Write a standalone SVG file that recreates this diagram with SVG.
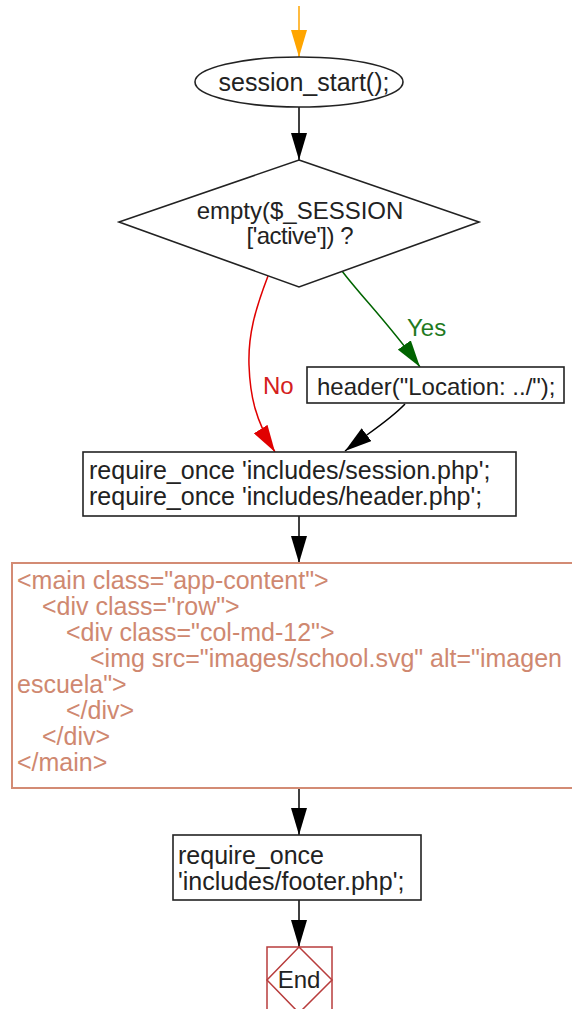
<svg xmlns="http://www.w3.org/2000/svg" width="572" height="1009" viewBox="0 0 572 1009">
<style>
text{font-family:"Liberation Sans",Arial,sans-serif;font-size:25px;fill:#222}
.s24{font-size:24px}
.shape{fill:#fff;stroke:#222;stroke-width:1.6}
.code{fill:#cf8870}
.edge{fill:none;stroke-width:1.5}
</style>
<defs>
<marker id="ah-black" markerUnits="userSpaceOnUse" viewBox="0 0 27 16" refX="27" refY="8" markerWidth="27" markerHeight="16" orient="auto"><path d="M0,0 L27,8 L0,16 Z" fill="#000"/></marker>
<marker id="ah-orange" markerUnits="userSpaceOnUse" viewBox="0 0 27 16" refX="27" refY="8" markerWidth="27" markerHeight="16" orient="auto"><path d="M0,0 L27,8 L0,16 Z" fill="#ffa500"/></marker>
<marker id="ah-red" markerUnits="userSpaceOnUse" viewBox="0 0 27 16" refX="27" refY="8" markerWidth="27" markerHeight="16" orient="auto"><path d="M0,0 L27,8 L0,16 Z" fill="#e00000"/></marker>
<marker id="ah-green" markerUnits="userSpaceOnUse" viewBox="0 0 27 16" refX="27" refY="8" markerWidth="27" markerHeight="16" orient="auto"><path d="M0,0 L27,8 L0,16 Z" fill="#006400"/></marker>
</defs>
<g id="connectors">
<path class="edge" d="M299,6 L299,57" stroke="#ffa500" marker-end="url(#ah-orange)"/>
<path class="edge" d="M299,107 L299,160" stroke="#000" marker-end="url(#ah-black)"/>
<path class="edge" d="M268,276 C255,310 248,335 249,365 C250,395 255,420 275,452" stroke="#e00000" marker-end="url(#ah-red)"/>
<path class="edge" d="M342,271 C360,295 390,325 420,367" stroke="#006400" marker-end="url(#ah-green)"/>
<path class="edge" d="M405,404 C390,420 370,432 345,451" stroke="#000" marker-end="url(#ah-black)"/>
<path class="edge" d="M299,516 L299,563" stroke="#000" marker-end="url(#ah-black)"/>
<path class="edge" d="M299,788 L299,835" stroke="#000" marker-end="url(#ah-black)"/>
<path class="edge" d="M299,900 L299,947" stroke="#000" marker-end="url(#ah-black)"/>
<text class="s24" x="263" y="394" style="fill:#d42020">No</text>
<text class="s24" x="407" y="336" style="fill:#1f7a1f">Yes</text>
</g>
<g id="start">
<ellipse class="shape" cx="299" cy="82" rx="104" ry="25"/>
<text x="304" y="91" text-anchor="middle">session_start();</text>
</g>
<g id="decision">
<path class="shape" d="M299,160 L479,222 L299,287 L119,222 Z"/>
<text class="s24" x="300" y="219" text-anchor="middle">empty($_SESSION</text>
<text class="s24" x="300" y="244" text-anchor="middle" textLength="107" lengthAdjust="spacing">['active']) ?</text>
</g>
<g id="header">
<rect class="shape" x="307" y="367" width="257" height="36"/>
<text class="s24" x="317" y="395">header("Location: ../");</text>
</g>
<g id="require">
<rect class="shape" x="83" y="452" width="433" height="64"/>
<text x="89" y="479">require_once 'includes/session.php';</text>
<text x="89" y="505">require_once 'includes/header.php';</text>
</g>
<g id="html">
<rect x="12" y="563" width="570" height="225" fill="#fff" stroke="#d38b74" stroke-width="2"/>
<text class="code" x="17" y="589">&lt;main class="app-content"&gt;</text>
<text class="code" x="42" y="615">&lt;div class="row"&gt;</text>
<text class="code" x="66" y="641">&lt;div class="col-md-12"&gt;</text>
<text class="code" x="90" y="667">&lt;img src="images/school.svg" alt="imagen</text>
<text class="code" x="17" y="693">escuela"&gt;</text>
<text class="code" x="66" y="719">&lt;/div&gt;</text>
<text class="code" x="42" y="745">&lt;/div&gt;</text>
<text class="code" x="17" y="771">&lt;/main&gt;</text>
</g>
<g id="footer">
<rect class="shape" x="173" y="835" width="248" height="65"/>
<text x="178" y="864">require_once</text>
<text x="178" y="890">'includes/footer.php';</text>
</g>
<g id="end">
<rect x="267" y="947" width="65" height="70" fill="#fff" stroke="#b83c3c" stroke-width="1.5"/>
<path d="M299,947 L332,980 L299,1013 L267,980 Z" fill="none" stroke="#b83c3c" stroke-width="1.5"/>
<text class="s24" x="299" y="988" text-anchor="middle">End</text>
</g>
</svg>
